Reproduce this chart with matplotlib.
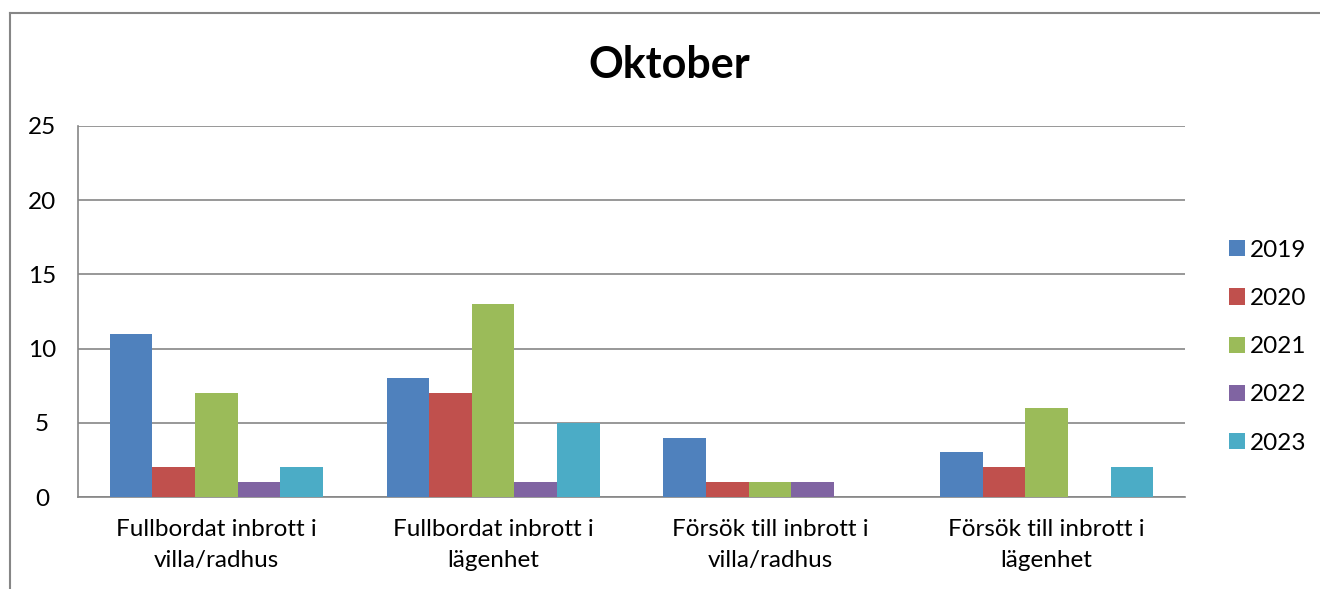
import numpy as np
import matplotlib
matplotlib.use("Agg")
import matplotlib.pyplot as plt
from matplotlib.lines import Line2D

# Data
categories = ["Fullbordat inbrott i\nvilla/radhus", "Fullbordat inbrott i\nlägenhet",
              "Försök till inbrott i\nvilla/radhus", "Försök till inbrott i\nlägenhet"]
years = ["2019", "2020", "2021", "2022", "2023"]
v2019 = [11, 8, 4, 3]
v2020 = [2, 7, 1, 2]
v2021 = [7, 13, 1, 6]
v2022 = [1, 1, 1, 0]
v2023 = [2, 5, 0, 2]
series = [v2019, v2020, v2021, v2022, v2023]
colors = ["#4F81BD", "#C0504D", "#9BBB59", "#8064A2", "#4BACC6"]

plt.rcParams['font.family'] = ['Lato', 'DejaVu Sans']

fig = plt.figure(figsize=(13.2, 5.89), dpi=100)
ax = fig.add_axes([78/1320, 1-497/589, (1185-78)/1320, (497-126)/589])

x = np.arange(len(categories))
w = 0.154
for i, (vals, c, yr) in enumerate(zip(series, colors, years)):
    ax.bar(x + (i - 2) * w, vals, width=w, color=c, label=yr, zorder=3)

ax.set_xlim(-0.5, 3.5)
ax.set_ylim(0, 25)
ax.set_yticks(range(0, 26, 5))
ax.yaxis.grid(True, color="#868686", linewidth=1.2, zorder=0)
ax.set_xticks(x)
ax.set_xticklabels(categories, fontsize=17.5, linespacing=1.6)
ax.tick_params(axis="x", length=0, pad=16)
ax.tick_params(axis="y", length=0, pad=26, labelsize=17.5)
for lbl in ax.get_yticklabels():
    lbl.set_horizontalalignment("center")
for s in ["top", "right"]:
    ax.spines[s].set_visible(False)
for s in ["left", "bottom"]:
    ax.spines[s].set_color("#868686")
    ax.spines[s].set_linewidth(1.2)

fig.text(669/1320, 1-65/589, "Oktober", ha="center", va="center",
         fontsize=31, fontweight="bold")

leg = ax.legend(loc="center left", bbox_to_anchor=(1.02, 0.405), frameon=False,
                fontsize=17.5, handlelength=0.65, handleheight=0.65,
                handletextpad=0.2, labelspacing=1.12)

# outer chart border
fig.add_artist(Line2D([10/1320, 1.0], [1-13/589, 1-13/589], transform=fig.transFigure,
                      color="#868686", linewidth=1.5))
fig.add_artist(Line2D([10/1320, 10/1320], [0, 1-13/589], transform=fig.transFigure,
                      color="#868686", linewidth=1.5))

fig.savefig("out.png", dpi=100)
